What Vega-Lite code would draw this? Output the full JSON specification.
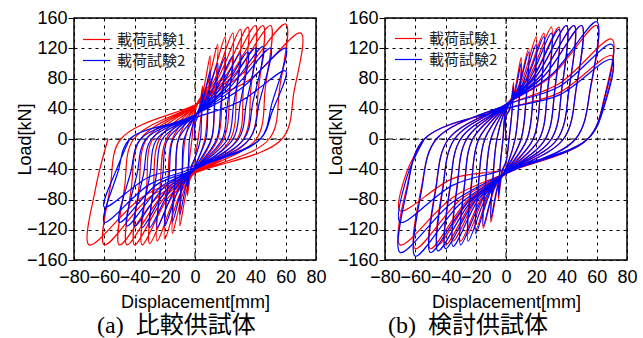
{
"$schema": "https://vega.github.io/schema/vega-lite/v6.json",
"padding": {"left": 15, "top": 8, "right": 0, "bottom": 0},
"autosize": {"type": "pad"},
"background": "white",
"bounds": "flush",
"spacing": 69,
"datasets": {
"a1": [{"x":0,"y":0},
{"x":0,"y":25},{"x":2.5,"y":38.5},{"x":5,"y":70},{"x":4,"y":31.5},{"x":2,"y":0},{"x":0,"y":-25},{"x":-2.5,"y":-41},{"x":-5,"y":-75},{"x":-4,"y":-34},{"x":-2,"y":0},
{"x":0,"y":38},{"x":5,"y":60.5},{"x":10,"y":110},{"x":8.5,"y":49.5},{"x":6.5,"y":0},{"x":0,"y":-38},{"x":-5,"y":-63},{"x":-10,"y":-115},{"x":-8.5,"y":-52},{"x":-6.5,"y":0},
{"x":0,"y":42},{"x":7.5,"y":69},{"x":15,"y":125},{"x":13,"y":56},{"x":11,"y":0},{"x":0,"y":-42},{"x":-7.5,"y":-69},{"x":-15,"y":-125},{"x":-13,"y":-56},{"x":-11,"y":0},
{"x":0,"y":43},{"x":10,"y":74},{"x":20,"y":135},{"x":18,"y":61},{"x":15,"y":0},{"x":0,"y":-43},{"x":-10,"y":-73},{"x":-20,"y":-132},{"x":-18,"y":-59},{"x":-15,"y":0},
{"x":0,"y":43},{"x":12.5,"y":77},{"x":25,"y":140},{"x":23,"y":63},{"x":19,"y":0},{"x":0,"y":-43},{"x":-12.5,"y":-74},{"x":-25,"y":-135},{"x":-23,"y":-61},{"x":-19,"y":0},
{"x":0,"y":44},{"x":15,"y":80},{"x":30,"y":145},{"x":27.5,"y":65},{"x":23.5,"y":0},{"x":0,"y":-44},{"x":-15,"y":-76},{"x":-30,"y":-138},{"x":-27.5,"y":-62},{"x":-23.5,"y":0},
{"x":0,"y":44},{"x":17.5,"y":81},{"x":35,"y":148},{"x":32,"y":67},{"x":28,"y":0},{"x":0,"y":-44},{"x":-17.5,"y":-77},{"x":-35,"y":-140},{"x":-32,"y":-63},{"x":-28,"y":0},
{"x":0,"y":45},{"x":20,"y":83},{"x":40,"y":150},{"x":37,"y":68},{"x":32,"y":0},{"x":0,"y":-45},{"x":-20,"y":-77},{"x":-40,"y":-140},{"x":-37,"y":-63},{"x":-32,"y":0},
{"x":0,"y":45},{"x":22.5,"y":83},{"x":45,"y":150},{"x":42,"y":68},{"x":36,"y":0},{"x":0,"y":-45},{"x":-22.5,"y":-77},{"x":-45,"y":-140},{"x":-42,"y":-63},{"x":-36,"y":0},
{"x":0,"y":45},{"x":25,"y":83},{"x":50,"y":150},{"x":46.5,"y":68},{"x":40.5,"y":0},{"x":0,"y":-45},{"x":-25,"y":-77},{"x":-50,"y":-140},{"x":-46.5,"y":-63},{"x":-40.5,"y":0},
{"x":0,"y":45},{"x":30,"y":84},{"x":60,"y":152},{"x":56,"y":68},{"x":49,"y":0},{"x":0,"y":-45},{"x":-30,"y":-77},{"x":-60,"y":-140},{"x":-56,"y":-63},{"x":-49,"y":0},
{"x":0,"y":45},{"x":35,"y":77},{"x":70,"y":140},{"x":65.5,"y":63},{"x":57.5,"y":0},{"x":0,"y":-45},{"x":-35,"y":-77},{"x":-70,"y":-140},{"x":-65.5,"y":-63},{"x":-57.5,"y":0}],
"a2": [{"x":0,"y":0},
{"x":0,"y":20},{"x":2.5,"y":33},{"x":5,"y":60},{"x":4.2,"y":24},{"x":3.6,"y":0},{"x":0,"y":-25},{"x":-2.5,"y":-36},{"x":-5,"y":-65},{"x":-4.2,"y":-26},{"x":-3.6,"y":0},
{"x":0,"y":28},{"x":5,"y":50},{"x":10,"y":90},{"x":8.5,"y":36},{"x":7.2,"y":0},{"x":0,"y":-35},{"x":-5,"y":-55},{"x":-10,"y":-100},{"x":-8.5,"y":-40},{"x":-7.2,"y":0},
{"x":0,"y":30},{"x":7.5,"y":55},{"x":15,"y":100},{"x":12.8,"y":40},{"x":10.8,"y":0},{"x":0,"y":-38},{"x":-7.5,"y":-60},{"x":-15,"y":-110},{"x":-12.8,"y":-44},{"x":-10.8,"y":0},
{"x":0,"y":30},{"x":10,"y":59},{"x":20,"y":108},{"x":17,"y":43},{"x":14.4,"y":0},{"x":0,"y":-40},{"x":-10,"y":-63},{"x":-20,"y":-115},{"x":-17,"y":-46},{"x":-14.4,"y":0},
{"x":0,"y":32},{"x":12.5,"y":60},{"x":25,"y":110},{"x":21.3,"y":44},{"x":18,"y":0},{"x":0,"y":-40},{"x":-12.5,"y":-64},{"x":-25,"y":-117},{"x":-21.3,"y":-47},{"x":-18,"y":0},
{"x":0,"y":32},{"x":15,"y":62},{"x":30,"y":113},{"x":25.5,"y":45},{"x":21.6,"y":0},{"x":0,"y":-40},{"x":-15,"y":-64},{"x":-30,"y":-117},{"x":-25.5,"y":-47},{"x":-21.6,"y":0},
{"x":0,"y":32},{"x":17.5,"y":63},{"x":35,"y":115},{"x":29.8,"y":46},{"x":25.2,"y":0},{"x":0,"y":-40},{"x":-17.5,"y":-64},{"x":-35,"y":-117},{"x":-29.8,"y":-47},{"x":-25.2,"y":0},
{"x":0,"y":32},{"x":20,"y":66},{"x":40,"y":120},{"x":34,"y":48},{"x":28.8,"y":0},{"x":0,"y":-40},{"x":-20,"y":-63},{"x":-40,"y":-115},{"x":-34,"y":-46},{"x":-28.8,"y":0},
{"x":0,"y":32},{"x":22.5,"y":67},{"x":45,"y":122},{"x":38.3,"y":49},{"x":32.4,"y":0},{"x":0,"y":-40},{"x":-22.5,"y":-63},{"x":-45,"y":-115},{"x":-38.3,"y":-46},{"x":-32.4,"y":0},
{"x":0,"y":32},{"x":25,"y":66},{"x":50,"y":120},{"x":42.5,"y":48},{"x":36,"y":0},{"x":0,"y":-40},{"x":-25,"y":-60},{"x":-50,"y":-110},{"x":-42.5,"y":-44},{"x":-36,"y":0},
{"x":0,"y":32},{"x":30,"y":66},{"x":60,"y":120},{"x":51,"y":48},{"x":43.2,"y":0},{"x":0,"y":-38},{"x":-30,"y":-60},{"x":-60,"y":-110},{"x":-51,"y":-44},{"x":-43.2,"y":0},
{"x":0,"y":28},{"x":30,"y":50},{"x":60,"y":90},{"x":51,"y":36},{"x":43.2,"y":0},{"x":0,"y":-35},{"x":-30,"y":-50},{"x":-60,"y":-90},{"x":-51,"y":-36},{"x":-43.2,"y":0}],
"b1": [{"x":0,"y":0},
{"x":0,"y":30},{"x":2.5,"y":41},{"x":5,"y":75},{"x":3.8,"y":34},{"x":2,"y":0},{"x":0,"y":-30},{"x":-2.5,"y":-44},{"x":-5,"y":-80},{"x":-3.8,"y":-36},{"x":-2,"y":0},
{"x":0,"y":40},{"x":5,"y":59},{"x":10,"y":108},{"x":8.5,"y":49},{"x":6,"y":0},{"x":0,"y":-40},{"x":-5,"y":-61},{"x":-10,"y":-110},{"x":-8.5,"y":-50},{"x":-6,"y":0},
{"x":0,"y":42},{"x":7.5,"y":66},{"x":15,"y":120},{"x":13.3,"y":54},{"x":10,"y":0},{"x":0,"y":-42},{"x":-7.5,"y":-65},{"x":-15,"y":-118},{"x":-13.3,"y":-53},{"x":-10,"y":0},
{"x":0,"y":43},{"x":10,"y":74},{"x":20,"y":135},{"x":18,"y":61},{"x":14,"y":0},{"x":0,"y":-43},{"x":-10,"y":-66},{"x":-20,"y":-120},{"x":-18,"y":-54},{"x":-14,"y":0},
{"x":0,"y":44},{"x":12.5,"y":77},{"x":25,"y":140},{"x":22.8,"y":63},{"x":18,"y":0},{"x":0,"y":-44},{"x":-12.5,"y":-69},{"x":-25,"y":-125},{"x":-22.8,"y":-56},{"x":-18,"y":0},
{"x":0,"y":45},{"x":15,"y":81},{"x":30,"y":148},{"x":27.5,"y":67},{"x":22,"y":0},{"x":0,"y":-45},{"x":-15,"y":-74},{"x":-30,"y":-135},{"x":-27.5,"y":-61},{"x":-22,"y":0},
{"x":0,"y":45},{"x":17.5,"y":81},{"x":35,"y":148},{"x":32.3,"y":67},{"x":26,"y":0},{"x":0,"y":-45},{"x":-17.5,"y":-74},{"x":-35,"y":-135},{"x":-32.3,"y":-61},{"x":-26,"y":0},
{"x":0,"y":45},{"x":20,"y":83},{"x":40,"y":150},{"x":37,"y":68},{"x":30,"y":0},{"x":0,"y":-45},{"x":-20,"y":-77},{"x":-40,"y":-140},{"x":-37,"y":-63},{"x":-30,"y":0},
{"x":0,"y":45},{"x":22.5,"y":83},{"x":45,"y":150},{"x":41.8,"y":68},{"x":34,"y":0},{"x":0,"y":-45},{"x":-22.5,"y":-77},{"x":-45,"y":-140},{"x":-41.8,"y":-63},{"x":-34,"y":0},
{"x":0,"y":46},{"x":25,"y":83},{"x":50,"y":150},{"x":46.5,"y":68},{"x":38,"y":0},{"x":0,"y":-46},{"x":-25,"y":-80},{"x":-50,"y":-145},{"x":-46.5,"y":-65},{"x":-38,"y":0},
{"x":0,"y":46},{"x":30,"y":83},{"x":60,"y":150},{"x":56,"y":68},{"x":46,"y":0},{"x":0,"y":-46},{"x":-30,"y":-80},{"x":-60,"y":-145},{"x":-56,"y":-65},{"x":-46,"y":0},
{"x":0,"y":45},{"x":35,"y":73},{"x":70,"y":132},{"x":65.5,"y":59},{"x":54,"y":0},{"x":0,"y":-45},{"x":-35,"y":-77},{"x":-70,"y":-140},{"x":-65.5,"y":-63},{"x":-54,"y":0},
{"x":0,"y":40},{"x":35,"y":61},{"x":70,"y":110},{"x":65.5,"y":50},{"x":54,"y":0},{"x":0,"y":-40},{"x":-35,"y":-52},{"x":-70,"y":-95},{"x":-65.5,"y":-43},{"x":-54,"y":0}],
"b2": [{"x":0,"y":0},
{"x":0,"y":30},{"x":2.5,"y":39},{"x":5,"y":70},{"x":3.8,"y":32},{"x":2,"y":0},{"x":0,"y":-30},{"x":-2.5,"y":-41},{"x":-5,"y":-75},{"x":-3.8,"y":-34},{"x":-2,"y":0},
{"x":0,"y":38},{"x":5,"y":55},{"x":10,"y":100},{"x":8.5,"y":45},{"x":6,"y":0},{"x":0,"y":-38},{"x":-5,"y":-58},{"x":-10,"y":-105},{"x":-8.5,"y":-47},{"x":-6,"y":0},
{"x":0,"y":40},{"x":7.5,"y":63},{"x":15,"y":115},{"x":13.3,"y":52},{"x":10,"y":0},{"x":0,"y":-40},{"x":-7.5,"y":-63},{"x":-15,"y":-115},{"x":-13.3,"y":-52},{"x":-10,"y":0},
{"x":0,"y":42},{"x":10,"y":69},{"x":20,"y":125},{"x":18,"y":56},{"x":14,"y":0},{"x":0,"y":-42},{"x":-10,"y":-69},{"x":-20,"y":-125},{"x":-18,"y":-56},{"x":-14,"y":0},
{"x":0,"y":43},{"x":12.5,"y":74},{"x":25,"y":135},{"x":22.8,"y":61},{"x":18,"y":0},{"x":0,"y":-43},{"x":-12.5,"y":-74},{"x":-25,"y":-135},{"x":-22.8,"y":-61},{"x":-18,"y":0},
{"x":0,"y":44},{"x":15,"y":77},{"x":30,"y":140},{"x":27.5,"y":63},{"x":22,"y":0},{"x":0,"y":-44},{"x":-15,"y":-77},{"x":-30,"y":-140},{"x":-27.5,"y":-63},{"x":-22,"y":0},
{"x":0,"y":45},{"x":17.5,"y":80},{"x":35,"y":145},{"x":32.3,"y":65},{"x":26,"y":0},{"x":0,"y":-45},{"x":-17.5,"y":-78},{"x":-35,"y":-142},{"x":-32.3,"y":-64},{"x":-26,"y":0},
{"x":0,"y":45},{"x":20,"y":83},{"x":40,"y":150},{"x":37,"y":68},{"x":30,"y":0},{"x":0,"y":-45},{"x":-20,"y":-80},{"x":-40,"y":-145},{"x":-37,"y":-65},{"x":-30,"y":0},
{"x":0,"y":45},{"x":22.5,"y":83},{"x":45,"y":150},{"x":41.8,"y":68},{"x":34,"y":0},{"x":0,"y":-45},{"x":-22.5,"y":-81},{"x":-45,"y":-148},{"x":-41.8,"y":-67},{"x":-34,"y":0},
{"x":0,"y":46},{"x":25,"y":83},{"x":50,"y":150},{"x":46.5,"y":68},{"x":38,"y":0},{"x":0,"y":-46},{"x":-25,"y":-83},{"x":-50,"y":-150},{"x":-46.5,"y":-68},{"x":-38,"y":0},
{"x":0,"y":46},{"x":30,"y":85},{"x":60,"y":155},{"x":56,"y":70},{"x":46,"y":0},{"x":0,"y":-46},{"x":-30,"y":-85},{"x":-60,"y":-155},{"x":-56,"y":-70},{"x":-46,"y":0},
{"x":0,"y":45},{"x":35,"y":69},{"x":70,"y":125},{"x":65.5,"y":56},{"x":54,"y":0},{"x":0,"y":-45},{"x":-35,"y":-83},{"x":-70,"y":-150},{"x":-65.5,"y":-68},{"x":-54,"y":0},
{"x":0,"y":40},{"x":35,"y":58},{"x":70,"y":105},{"x":65.5,"y":47},{"x":54,"y":0},{"x":0,"y":-40},{"x":-35,"y":-61},{"x":-70,"y":-110},{"x":-65.5,"y":-50},{"x":-54,"y":0}]
},
"config": {
  "view": {"stroke": "black", "strokeWidth": 1.5},
  "axis": {"labelFont": "Liberation Sans", "labelFontSize": 18, "labelColor": "black", "titleFont": "Liberation Sans", "titleFontSize": 18, "titleFontWeight": "normal", "titleColor": "black", "domain": false, "grid": true, "gridColor": "black", "gridOpacity": 1, "gridDash": [3, 4], "gridWidth": 1, "labelFlush": false, "labelOverlap": false, "labelBound": false},
  "axisX": {"ticks": false, "labelPadding": 8},
  "axisY": {"ticks": true, "tickSize": 6, "tickColor": "black", "tickWidth": 1, "labelPadding": 1},
  "line": {"strokeWidth": 1.2, "interpolate": "catmull-rom"}
},
"resolve": {"scale": {"color": "independent"}},
"hconcat": [
 {
  "width": 242, "height": 242,
  "title": {"text": "(a)\u00a0\u00a0比較供試体", "orient": "bottom", "anchor": "start", "frame": "group", "dx": 23, "offset": 22, "baseline": "alphabetic", "font": "Liberation Serif, Noto Sans CJK JP", "fontSize": 24, "fontWeight": "normal", "color": "black"},
  "layer": [
   {"data": {"values": [{}]}, "mark": {"type": "rule", "color": "black", "strokeWidth": 1, "strokeDash": [6, 3, 1, 3]},
    "encoding": {"x": {"datum": 0, "type": "quantitative", "scale": {"domain": [-80, 80], "nice": false}, "axis": {"values": [-80, -60, -40, -20, 0, 20, 40, 60, 80], "tickCount": 9, "title": "Displacement[mm]", "titleBaseline": "alphabetic", "titleY": 47}}}},
   {"data": {"values": [{}]}, "mark": {"type": "rule", "color": "black", "strokeWidth": 1, "strokeDash": [6, 3, 1, 3]},
    "encoding": {"y": {"datum": 0, "type": "quantitative", "scale": {"domain": [-160, 160], "nice": false}, "axis": {"values": [-160, -120, -80, -40, 0, 40, 80, 120, 160], "tickCount": 9, "title": "Load[kN]", "titleBaseline": "alphabetic", "titleX": -44, "titleY": 121, "titleAngle": -90}}}},
   {"data": {"name": "a1"}, "mark": {"type": "line"},
    "encoding": {
     "x": {"field": "x", "type": "quantitative", "scale": {"domain": [-80, 80], "nice": false}, "axis": {"values": [-80, -60, -40, -20, 0, 20, 40, 60, 80], "tickCount": 9, "title": "Displacement[mm]", "titleBaseline": "alphabetic", "titleY": 47}},
     "y": {"field": "y", "type": "quantitative", "scale": {"domain": [-160, 160], "nice": false}, "axis": {"values": [-160, -120, -80, -40, 0, 40, 80, 120, 160], "tickCount": 9, "title": "Load[kN]", "titleBaseline": "alphabetic", "titleX": -44, "titleY": 121, "titleAngle": -90}},
     "order": {"value": null},
     "color": {"datum": "載荷試験1", "type": "nominal", "scale": {"domain": ["載荷試験1", "載荷試験2"], "range": ["#ff0000", "#0000ff"]},
       "legend": {"title": null, "orient": "none", "legendX": 15, "legendY": 14, "symbolType": "M-2,0H2", "symbolSize": 182, "symbolStrokeWidth": 2, "labelFont": "Noto Sans CJK JP", "labelFontSize": 15, "labelColor": "#222", "labelOffset": 13, "rowPadding": 5, "padding": 0}}
    }},
   {"data": {"name": "a2"}, "mark": {"type": "line"},
    "encoding": {
     "x": {"field": "x", "type": "quantitative"},
     "y": {"field": "y", "type": "quantitative"},
     "order": {"value": null},
     "color": {"datum": "載荷試験2", "type": "nominal"}
    }}
  ]
 },
 {
  "width": 242, "height": 242,
  "title": {"text": "(b)\u00a0\u00a0検討供試体", "orient": "bottom", "anchor": "start", "frame": "group", "dx": 3, "offset": 22, "baseline": "alphabetic", "font": "Liberation Serif, Noto Sans CJK JP", "fontSize": 24, "fontWeight": "normal", "color": "black"},
  "layer": [
   {"data": {"values": [{}]}, "mark": {"type": "rule", "color": "black", "strokeWidth": 1, "strokeDash": [6, 3, 1, 3]},
    "encoding": {"x": {"datum": 0, "type": "quantitative", "scale": {"domain": [-80, 80], "nice": false}, "axis": {"values": [-80, -60, -40, -20, 0, 20, 40, 60, 80], "tickCount": 9, "title": "Displacement[mm]", "titleBaseline": "alphabetic", "titleY": 47}}}},
   {"data": {"values": [{}]}, "mark": {"type": "rule", "color": "black", "strokeWidth": 1, "strokeDash": [6, 3, 1, 3]},
    "encoding": {"y": {"datum": 0, "type": "quantitative", "scale": {"domain": [-160, 160], "nice": false}, "axis": {"values": [-160, -120, -80, -40, 0, 40, 80, 120, 160], "tickCount": 9, "title": "Load[kN]", "titleBaseline": "alphabetic", "titleX": -44, "titleY": 121, "titleAngle": -90}}}},
   {"data": {"name": "b1"}, "mark": {"type": "line"},
    "encoding": {
     "x": {"field": "x", "type": "quantitative", "scale": {"domain": [-80, 80], "nice": false}, "axis": {"values": [-80, -60, -40, -20, 0, 20, 40, 60, 80], "tickCount": 9, "title": "Displacement[mm]", "titleBaseline": "alphabetic", "titleY": 47}},
     "y": {"field": "y", "type": "quantitative", "scale": {"domain": [-160, 160], "nice": false}, "axis": {"values": [-160, -120, -80, -40, 0, 40, 80, 120, 160], "tickCount": 9, "title": "Load[kN]", "titleBaseline": "alphabetic", "titleX": -44, "titleY": 121, "titleAngle": -90}},
     "order": {"value": null},
     "color": {"datum": "載荷試験1", "type": "nominal", "scale": {"domain": ["載荷試験1", "載荷試験2"], "range": ["#ff0000", "#0000ff"]},
       "legend": {"title": null, "orient": "none", "legendX": 16, "legendY": 13, "symbolType": "M-2,0H2", "symbolSize": 182, "symbolStrokeWidth": 2, "labelFont": "Noto Sans CJK JP", "labelFontSize": 15, "labelColor": "#222", "labelOffset": 13, "rowPadding": 5, "padding": 0}}
    }},
   {"data": {"name": "b2"}, "mark": {"type": "line"},
    "encoding": {
     "x": {"field": "x", "type": "quantitative"},
     "y": {"field": "y", "type": "quantitative"},
     "order": {"value": null},
     "color": {"datum": "載荷試験2", "type": "nominal"}
    }}
  ]
 }
]
}
